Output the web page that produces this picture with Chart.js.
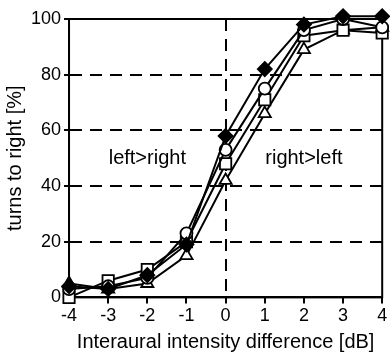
<!DOCTYPE html>
<html>
<head>
<meta charset="utf-8">
<script src="https://cdn.jsdelivr.net/npm/chart.js@4.4.1/dist/chart.umd.min.js"></script>
<style>
html,body{margin:0;padding:0;background:#fff;overflow:hidden;}
#wrap{width:392px;height:353px;position:relative;}
</style>
</head>
<body>
<div id="wrap"><canvas id="c"></canvas></div>
<script>
const xValues = [-4, -3, -2, -1, 0, 1, 2, 3, 4];
const diamondSeries = [4, 3, 8, 19, 58, 82, 98, 101, 101];
const circleSeries = [3, 4, 7, 23, 53, 75, 96, 100, 97];
const squareSeries = [0, 6, 10, 20, 48, 71, 94, 96, 95];
const triangleSeries = [5, 3, 5, 15, 42, 66, 89, 96, 97];
const yTicks = [0, 20, 40, 60, 80, 100];
const regionLabels = [{x: -2, y: 50, text: 'left>right'}, {x: 2, y: 50, text: 'right>left'}];

const FONT = "'Liberation Sans', Arial, sans-serif";
function pts(arr){ return xValues.map((x,i)=>({x:x,y:arr[i]})); }
function ds(label, arr, style, fill, r){
  return {label, data: pts(arr), borderColor:'#000', borderWidth:2,
    pointStyle: style, pointRadius: r, pointHoverRadius: r,
    pointBackgroundColor: fill, pointBorderColor:'#000', pointBorderWidth:1.8,
    showLine:true, tension:0, clip:false, fill:false};
}

const framePlugin = {
  id:'frame',
  beforeDatasetsDraw(chart){
    const {ctx, chartArea:a} = chart;
    ctx.save();
    ctx.strokeStyle='#000'; ctx.lineWidth=2;
    ctx.strokeRect(a.left, a.top, a.right-a.left, a.bottom-a.top);
    ctx.fillStyle='#000';
    ctx.font = "20px " + FONT;
    ctx.textAlign='center'; ctx.textBaseline='middle';
    const xs = chart.scales.x, ys = chart.scales.y;
    regionLabels.forEach(l=>ctx.fillText(l.text, xs.getPixelForValue(l.x), ys.getPixelForValue(l.y)));
    ctx.restore();
  }
};

new Chart(document.getElementById('c'), {
  type:'scatter',
  data:{datasets:[
    ds('diamond', diamondSeries, 'rectRot', '#000', 7),
    ds('circle', circleSeries, 'circle', '#fff', 6),
    ds('square', squareSeries, 'rect', '#fff', 8),
    ds('triangle', triangleSeries, 'triangle', '#fff', 7)
  ]},
  options:{
    responsive:true, maintainAspectRatio:false, animation:false,
    layout:{padding:{top:19,left:4,right:0,bottom:0}},
    plugins:{legend:{display:false}, tooltip:{enabled:false}},
    scales:{
      x:{type:'linear', min:-4, max:4,
        ticks:{stepSize:1, color:'#000', font:{family:FONT,size:18}, padding:2},
        grid:{color:(c)=>c.tick && c.tick.value===0 ? '#000':'rgba(0,0,0,0)', lineWidth:2,
          tickColor:'#000', tickLength:6, tickWidth:2, tickBorderDash:[]},
        border:{display:true, color:'#000', width:2, dash:[12,8]},
        title:{display:true, text:'Interaural intensity difference [dB]', color:'#000',
          font:{family:FONT,size:20,lineHeight:1.1}, padding:{top:2,bottom:0}}
      },
      y:{type:'linear', min:0, max:100,
        afterBuildTicks(s){ s.ticks = yTicks.map(v=>({value:v})); },
        ticks:{color:'#000', font:{family:FONT,size:18}, padding:3},
        grid:{color:(c)=>c.tick && c.tick.value>0 && c.tick.value<100 ? '#000':'rgba(0,0,0,0)', lineWidth:2,
          tickColor:'#000', tickLength:5, tickWidth:2, tickBorderDash:[]},
        border:{display:true, color:'#000', width:2, dash:[12,8]},
        title:{display:true, text:'turns to right [%]', color:'#000',
          font:{family:FONT,size:20,lineHeight:1.1}, padding:{top:0,bottom:2}}
      }
    }
  },
  plugins:[framePlugin]
});
</script>
</body>
</html>
